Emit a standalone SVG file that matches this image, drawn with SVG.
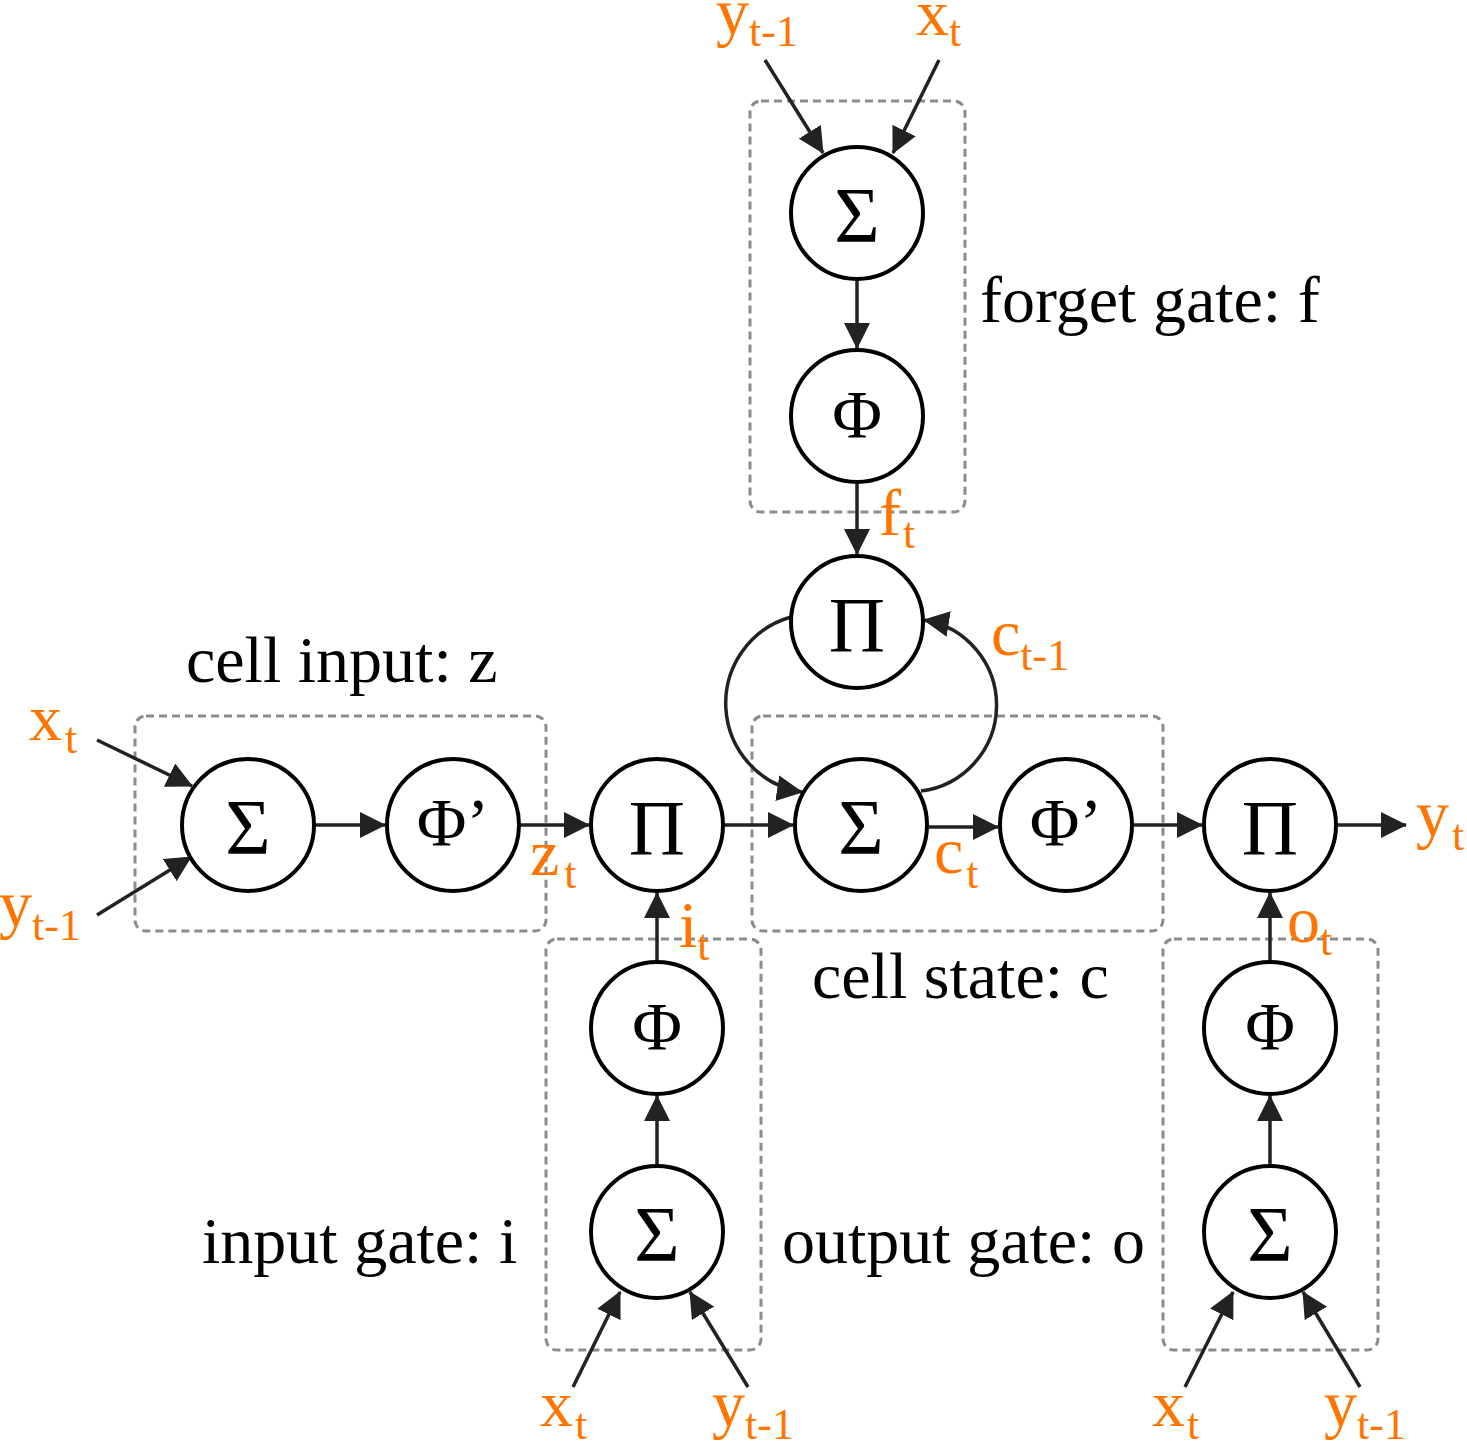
<svg xmlns="http://www.w3.org/2000/svg" width="1467" height="1442" viewBox="0 0 1467 1442">
<style>
.box{fill:none;stroke:#8c8c8c;stroke-width:3;stroke-dasharray:8 5}
.node circle{fill:#fff;stroke:#000;stroke-width:4}
.sym{font-family:"Liberation Serif","Times New Roman",serif;font-size:78px;fill:#000;text-anchor:middle}
.phi{font-family:"Liberation Serif","Times New Roman",serif;font-size:68px;fill:#000;text-anchor:middle}
.edge{fill:none;stroke:#222;stroke-width:3.5;marker-end:url(#ah)}
.lbl{font-family:"Liberation Serif","Times New Roman",serif;font-size:66px;fill:#000}
.var{font-family:"Liberation Serif","Times New Roman",serif;font-size:66px;fill:#ff7500}
.sub{font-size:44px}
</style>
<defs>
<marker id="ah" markerUnits="userSpaceOnUse" markerWidth="26" markerHeight="26" viewBox="0 0 26 26" refX="25" refY="13" orient="auto">
<path d="M0,0 L26,13 L0,26 z" fill="#222"/>
</marker>
</defs>
<rect width="1467" height="1442" fill="#fff"/>

<g id="boxes">
<rect class="box" x="750" y="101" width="215" height="411" rx="11"/>
<rect class="box" x="135" y="716" width="411" height="215" rx="11"/>
<rect class="box" x="752" y="716" width="411" height="215" rx="11"/>
<rect class="box" x="546" y="939" width="215" height="411" rx="11"/>
<rect class="box" x="1163" y="939" width="215" height="411" rx="11"/>
</g>

<g id="connectors">
<line class="edge" x1="765" y1="60" x2="823" y2="153"/>
<line class="edge" x1="939" y1="60" x2="893" y2="153"/>
<line class="edge" x1="857" y1="281" x2="857" y2="348"/>
<line class="edge" x1="857" y1="484" x2="857" y2="554"/>
<line class="edge" x1="97" y1="740" x2="192" y2="786"/>
<line class="edge" x1="97" y1="915" x2="191" y2="857"/>
<line class="edge" x1="316" y1="825" x2="385" y2="825"/>
<line class="edge" x1="521" y1="825" x2="589" y2="825"/>
<line class="edge" x1="725" y1="825" x2="793" y2="825"/>
<line class="edge" x1="929" y1="827" x2="998" y2="827"/>
<line class="edge" x1="1134" y1="825" x2="1202" y2="825"/>
<line class="edge" x1="1338" y1="825" x2="1406" y2="825"/>
<line class="edge" x1="657" y1="960" x2="657" y2="893"/>
<line class="edge" x1="657" y1="1164" x2="657" y2="1096"/>
<line class="edge" x1="1270" y1="960" x2="1270" y2="893"/>
<line class="edge" x1="1270" y1="1164" x2="1270" y2="1096"/>
<line class="edge" x1="573" y1="1387" x2="620" y2="1292"/>
<line class="edge" x1="748" y1="1387" x2="690" y2="1292"/>
<line class="edge" x1="1185" y1="1387" x2="1233" y2="1292"/>
<line class="edge" x1="1360" y1="1387" x2="1303" y2="1292"/>
<path class="edge" d="M791,617 A89.7,89.7 0 0 0 802,792"/>
<path class="edge" d="M921,791 A86.4,86.4 0 0 0 924,620"/>
</g>

<g id="forget_sum" class="node"><circle cx="857" cy="213" r="66"/><text class="sym" x="857" y="241">Σ</text></g>
<g id="forget_phi" class="node"><circle cx="857" cy="416" r="66"/><text class="phi" x="857" y="437">Φ</text></g>
<g id="forget_prod" class="node"><circle cx="857" cy="622" r="66"/><text class="sym" x="857" y="651">Π</text></g>
<g id="input_sum" class="node"><circle cx="248" cy="825" r="66"/><text class="sym" x="248" y="853">Σ</text></g>
<g id="input_phi" class="node"><circle cx="453" cy="825" r="66"/><text class="phi" x="453" y="845">Φ’</text></g>
<g id="input_prod" class="node"><circle cx="657" cy="825" r="66"/><text class="sym" x="657" y="854">Π</text></g>
<g id="state_sum" class="node"><circle cx="861" cy="825" r="66"/><text class="sym" x="861" y="853">Σ</text></g>
<g id="state_phi" class="node"><circle cx="1066" cy="825" r="66"/><text class="phi" x="1066" y="845">Φ’</text></g>
<g id="output_prod" class="node"><circle cx="1270" cy="825" r="66"/><text class="sym" x="1270" y="854">Π</text></g>
<g id="igate_phi" class="node"><circle cx="657" cy="1028" r="66"/><text class="phi" x="657" y="1049">Φ</text></g>
<g id="igate_sum" class="node"><circle cx="657" cy="1232" r="66"/><text class="sym" x="657" y="1260">Σ</text></g>
<g id="ogate_phi" class="node"><circle cx="1270" cy="1028" r="66"/><text class="phi" x="1270" y="1049">Φ</text></g>
<g id="ogate_sum" class="node"><circle cx="1270" cy="1232" r="66"/><text class="sym" x="1270" y="1260">Σ</text></g>

<g id="labels">
<text class="lbl" x="980" y="322">forget gate: f</text>
<text class="lbl" x="186" y="682">cell input: z</text>
<text class="lbl" x="812" y="998">cell state: c</text>
<text class="lbl" x="202" y="1263">input gate: i</text>
<text class="lbl" x="782" y="1263">output gate: o</text>
</g>

<g id="vars">
<text class="var" x="716" y="34">y<tspan class="sub" y="46">t-1</tspan></text>
<text class="var" x="916" y="35">x<tspan class="sub" y="46">t</tspan></text>
<text class="var" x="879" y="535">f<tspan class="sub" dx="2" y="548">t</tspan></text>
<text class="var" x="991" y="655">c<tspan class="sub" y="670">t-1</tspan></text>
<text class="var" x="29" y="740">x<tspan class="sub" dx="3" y="753">t</tspan></text>
<text class="var" x="-1" y="926">y<tspan class="sub" y="940">t-1</tspan></text>
<text class="var" x="530" y="875">z<tspan class="sub" dx="5" y="888">t</tspan></text>
<text class="var" x="679" y="947">i<tspan class="sub" y="960">t</tspan></text>
<text class="var" x="934" y="873">c<tspan class="sub" dx="3" y="888">t</tspan></text>
<text class="var" x="1416" y="836">y<tspan class="sub" dx="3" y="850">t</tspan></text>
<text class="var" x="1287" y="942">o<tspan class="sub" y="955">t</tspan></text>
<text class="var" x="540" y="1426">x<tspan class="sub" dx="2" y="1439">t</tspan></text>
<text class="var" x="712" y="1426">y<tspan class="sub" y="1439">t-1</tspan></text>
<text class="var" x="1152" y="1426">x<tspan class="sub" dx="2" y="1439">t</tspan></text>
<text class="var" x="1324" y="1426">y<tspan class="sub" y="1439">t-1</tspan></text>
</g>
</svg>
